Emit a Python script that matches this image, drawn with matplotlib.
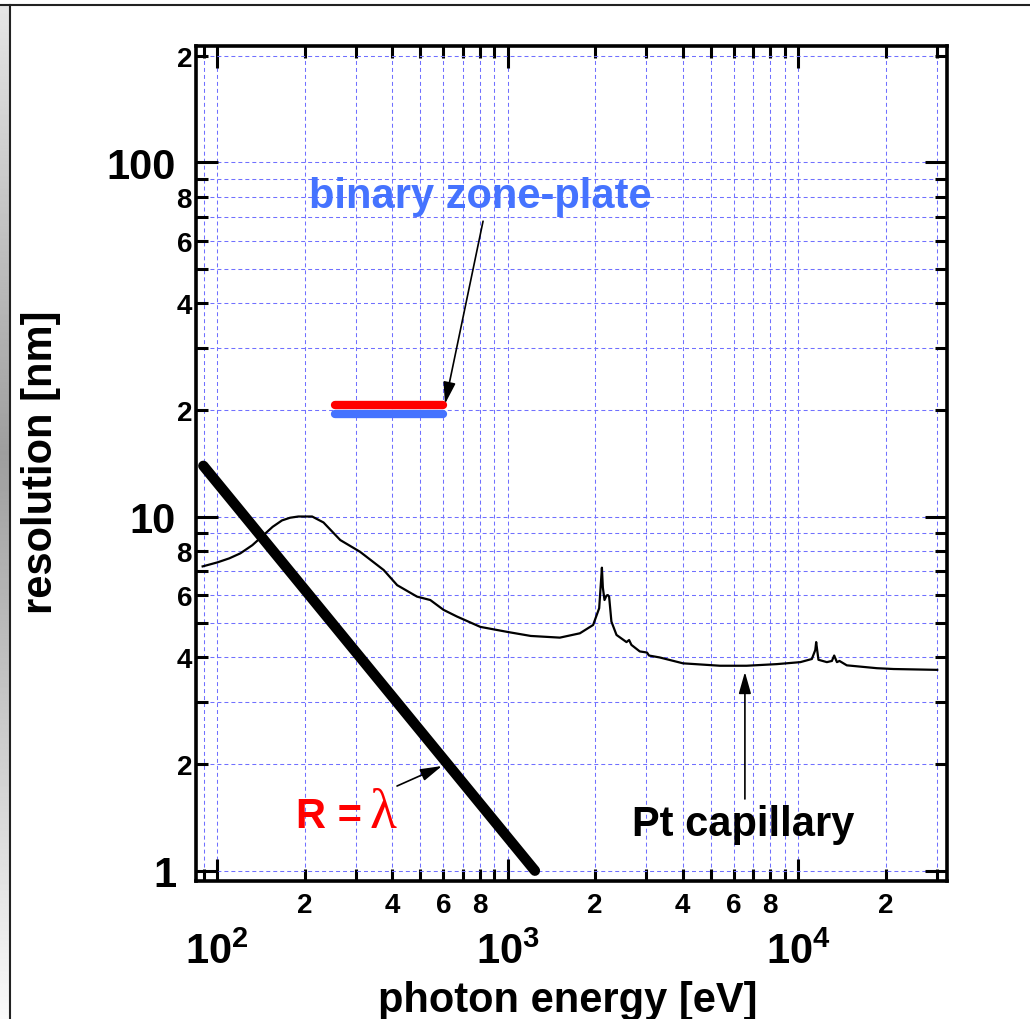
import numpy as np
import matplotlib.pyplot as plt
from matplotlib.lines import Line2D
from matplotlib.ticker import LogLocator, FuncFormatter

plt.rcParams.update({
    "font.family": ["Liberation Sans", "DejaVu Sans"],
    "font.weight": "bold",
    "mathtext.fontset": "custom",
    "mathtext.rm": "Liberation Sans:bold",
    "mathtext.bf": "Liberation Sans:bold",
    "mathtext.it": "Liberation Sans:bold",
})

# Pt capillary resolution curve
pt_energy = [89, 100, 110, 120, 132, 144, 155, 167, 178, 190, 212, 232, 265, 310,
             374, 416, 487, 541, 601, 668, 804, 1000, 1200, 1511, 1771, 1967, 2064,
             2095, 2109, 2125, 2153, 2187, 2210, 2233, 2274, 2368, 2563, 2616, 2665,
             2847, 3015, 3064, 3334, 4011, 5380, 6640, 8430, 10170, 11140, 11450,
             11530, 11620, 11740, 12550, 13060, 13300, 13590, 13870, 14700,
             18660, 21300, 30100]
pt_res = [7.23, 7.42, 7.62, 7.87, 8.3, 8.85, 9.35, 9.75, 9.92, 10.0, 10.0, 9.62,
          8.58, 7.95, 7.06, 6.40, 5.94, 5.81, 5.45, 5.22, 4.88, 4.72, 4.6, 4.55,
          4.68, 4.94, 5.51, 6.6, 7.17, 6.3, 5.81, 5.98, 6.0, 5.94, 5.05, 4.63,
          4.42, 4.48, 4.34, 4.16, 4.13, 4.05, 4.00, 3.85, 3.79, 3.79, 3.83, 3.88,
          3.96, 4.2, 4.42, 4.2, 3.94, 3.88, 3.91, 4.05, 3.88, 3.91, 3.80, 3.73,
          3.71, 3.69]

# R = lambda line
rl_energy = [89.5, 1240]
rl_res = [13.9, 1.0]

# binary zone plate
zp_energy = [255, 600]
zp_res_red = [20.7, 20.7]
zp_res_blue = [19.5, 19.5]

blue = '#4573ff'
W, H = 1030, 1020
fig = plt.figure(figsize=(W / 100, H / 100), dpi=100)

# shaded frame on the left and the border lines
grad = np.interp(np.arange(H), [0, 450, H], [0.9, 0.62, 0.98]).reshape(-1, 1)
gax = fig.add_axes([0, 0, 8.5 / W, (H - 6) / H])
gax.imshow(grad, cmap='gray', vmin=0, vmax=1, aspect='auto')
gax.set_axis_off()
fig.add_artist(Line2D([9.5 / W, 9.5 / W], [0, 1 - 6 / H], transform=fig.transFigure,
                      color='#222222', lw=1.5))
fig.add_artist(Line2D([0, 1], [1 - 5.5 / H, 1 - 5.5 / H], transform=fig.transFigure,
                      color='#222222', lw=1.5))

ax = fig.add_axes([195.5 / W, 1 - 881.7 / H, (946.5 - 195.5) / W, (881.7 - 47.3) / H])
ax.set_xscale('log')
ax.set_yscale('log')
ax.set_xlim(84.1, 32400)
ax.set_ylim(0.937, 212.6)

ax.grid(True, which='both', color='#7070ff', lw=0.75, ls=(0, (3.8, 2.9)))
ax.set_axisbelow(True)

ax.plot(pt_energy, pt_res, color='black', lw=1.6, solid_joinstyle='round')
ax.plot(rl_energy, rl_res, color='black', lw=7.5, solid_capstyle='round')
ax.plot(zp_energy, zp_res_blue, color=blue, lw=6, solid_capstyle='round')
ax.plot(zp_energy, zp_res_red, color='red', lw=6, solid_capstyle='round')

for s in ax.spines.values():
    s.set_linewidth(2.6)

def minor_fmt(v, pos):
    m = int(round(v / 10 ** np.floor(np.log10(v) + 1e-9)))
    return str(m) if m in (2, 4, 6, 8) else ''

for axis in (ax.xaxis, ax.yaxis):
    axis.set_major_locator(LogLocator(base=10, numticks=20))
    axis.set_minor_locator(LogLocator(base=10, subs=np.arange(2, 10), numticks=20))
    axis.set_minor_formatter(FuncFormatter(minor_fmt))
ax.xaxis.set_major_formatter(FuncFormatter(lambda v, p: r'$\mathbf{10^{%d}}$' % round(np.log10(v))))
ax.yaxis.set_major_formatter(FuncFormatter(lambda v, p: '%g' % v))

ax.tick_params(which='both', direction='in', top=True, right=True, width=2.2)
ax.tick_params(which='major', length=15.8)
ax.tick_params(which='minor', length=8.6, labelsize=20)
ax.tick_params(axis='x', which='major', labelsize=30, pad=37)
ax.tick_params(axis='x', which='minor', pad=8)
ax.tick_params(axis='y', which='major', labelsize=30, pad=14)
ax.tick_params(axis='y', which='minor', pad=2.5)

arrow = dict(arrowstyle='-|>,head_length=0.6,head_width=0.17', color='black',
             lw=1.2, mutation_scale=22, shrinkA=0, shrinkB=0)
ax.annotate('', xy=(608, 20.8), xytext=(822, 68.2), arrowprops=arrow)
ax.annotate('', xy=(593.6, 1.975), xytext=(415.5, 1.734), arrowprops=arrow)
ax.annotate('', xy=(6553, 3.64), xytext=(6553, 1.594), arrowprops=arrow)

ax.text(802, 80.4, 'binary zone-plate', color=blue, fontsize=30, ha='center', va='center')
ax.text(6473, 1.355, 'Pt capillary', color='black', fontsize=30, ha='center', va='center')
ax.text(315, 1.328, 'R =', color='red', fontsize=30, ha='right', va='baseline')
ax.text(333, 1.328, 'λ', color='red', fontsize=40, ha='left', va='baseline',
        family='Liberation Serif', fontweight='normal')

fig.text(41 / W, 1 - 462 / H, 'resolution [nm]', rotation=90, fontsize=30,
         ha='center', va='center')
fig.text(568 / W, 1 - 1012 / H, 'photon energy [eV]', fontsize=30,
         ha='center', va='baseline')

fig.savefig('out.png', dpi=100)
